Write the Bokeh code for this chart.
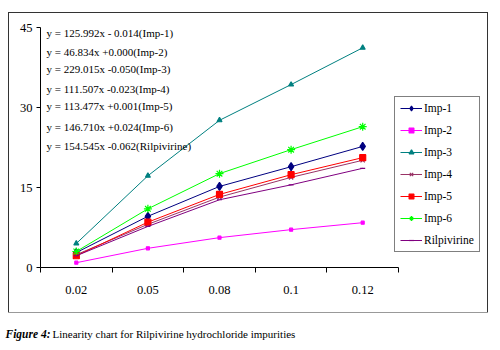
from bokeh.plotting import figure
from bokeh.models import (FixedTicker, Legend, LegendItem, Label, Range1d, Spacer)
from bokeh.layouts import column, row
from bokeh.embed import file_html
from bokeh.resources import INLINE

categories = ["0.02", "0.05", "0.08", "0.1", "0.12"]
series_names = ["Imp-1", "Imp-2", "Imp-3", "Imp-4", "Imp-5", "Imp-6", "Rilpivirine"]
imp1 = [2.8, 9.6, 15.2, 18.9, 22.7]
imp2 = [0.9, 3.6, 5.6, 7.1, 8.4]
imp3 = [4.5, 17.2, 27.6, 34.3, 41.2]
imp4 = [2.4, 8.1, 13.2, 16.9, 20.1]
imp5 = [2.2, 8.5, 13.7, 17.4, 20.6]
imp6 = [3.0, 11.0, 17.6, 22.1, 26.4]
rilp = [2.2, 7.7, 12.7, 15.5, 18.6]
equations = ["y = 125.992x - 0.014(Imp-1)", "y = 46.834x +0.000(Imp-2)",
             "y = 229.015x -0.050(Imp-3)", "y = 111.507x -0.023(Imp-4)",
             "y = 113.477x +0.001(Imp-5)", "y = 146.710x +0.024(Imp-6)",
             "y = 154.545x -0.062(Rilpivirine)"]
y_ticks = [0, 15, 30, 45]
caption_bold = "Figure 4:"
caption_text = "Linearity chart for Rilpivirine hydrochloride impurities"

# outer box in page px
BOX_L, BOX_T, BOX_R, BOX_B = 9, 13, 487, 312
W, H = BOX_R - BOX_L, BOX_B - BOX_T
# axis extents in page px
FL, AXR, FT, FB = 40, 398, 27, 267
X0, XA = -0.5, len(categories) - 0.5
Y0, Y1 = 0, 45

def dx(px):
    return X0 + (px - FL) * (XA - X0) / (AXR - FL)

def dy(py):
    return Y0 + (FB - py) * (Y1 - Y0) / (FB - FT)

SERIF = "Liberation Serif"

p = figure(width=W, height=H, output_backend="svg", toolbar_location=None,
           x_range=Range1d(X0, dx(BOX_R)), y_range=Range1d(Y0, Y1),
           min_border_left=FL - BOX_L, min_border_right=0,
           min_border_top=FT - BOX_T, min_border_bottom=BOX_B - FB)
p.styles = {"outline": "1.5px solid #333333"}
p.xgrid.visible = False
p.ygrid.visible = False
p.outline_line_color = None
p.background_fill_color = "white"
p.border_fill_color = "white"

xs = list(range(len(categories)))
p.xaxis.bounds = (X0, XA)
p.xaxis.ticker = FixedTicker(ticks=xs, minor_ticks=[i - 0.5 for i in range(len(categories) + 1)])
p.xaxis.major_label_overrides = {i: c for i, c in enumerate(categories)}
p.xaxis.major_tick_out = 0
p.xaxis.major_tick_in = 0
p.xaxis.major_tick_line_color = None
p.xaxis.minor_tick_out = 5
p.xaxis.minor_tick_in = 0
p.xaxis.minor_tick_line_color = "black"
p.xaxis.major_label_standoff = 13

p.yaxis.ticker = FixedTicker(ticks=y_ticks, minor_ticks=[])
p.yaxis.major_tick_out = 4
p.yaxis.major_tick_in = 0
p.yaxis.major_tick_line_color = "black"
p.yaxis.major_label_standoff = 4

for ax in (p.xaxis, p.yaxis):
    ax.axis_line_color = "black"
    ax.axis_line_width = 1
    ax.major_label_text_font = SERIF
    ax.major_label_text_font_size = "12.5px"
    ax.major_label_text_color = "black"

styles = [
    ("#000080", "diamond", 8),
    ("#FF00FF", "square", 3),
    ("#008080", "triangle", 5),
    ("#993366", "x", 6),
    ("#FF0000", "square", 6),
    ("#00FF00", "asterisk", 8),
    ("#800080", "dash", 5),
]
data = [imp1, imp2, imp3, imp4, imp5, imp6, rilp]

items = []
for name, vals, (col, mk, sz) in zip(series_names, data, styles):
    r1 = p.line(xs, vals, line_color=col, line_width=1)
    r2 = p.scatter(xs, vals, marker=mk, size=sz, line_color=col, fill_color=col, line_width=1.2)
    items.append(LegendItem(label=name, renderers=[r1, r2]))

legend = Legend(items=items, location=(394 - FL, FB - 252),
                label_text_font=SERIF, label_text_font_size="11.5px",
                label_text_color="black", glyph_width=22, glyph_height=12,
                label_height=12, label_standoff=2, spacing=10, padding=5,
                margin=0, border_line_color="black", border_line_width=1,
                background_fill_color="white", background_fill_alpha=1)
p.add_layout(legend, "center")

eq_y = [32, 51, 68, 88, 105, 126, 145]
for t, py in zip(equations, eq_y):
    p.add_layout(Label(x=dx(46), y=dy(py), text=t, text_font=SERIF,
                       text_font_size="11px", text_color="black",
                       text_baseline="middle", text_align="left"))

# caption as a second svg figure whose frame fills it (data units = page px)
CAP_H = 350 - BOX_B
cap = figure(width=500, height=CAP_H, output_backend="svg", toolbar_location=None,
             x_range=Range1d(0, 500), y_range=Range1d(CAP_H, 0),
             x_axis_type=None, y_axis_type=None,
             min_border_left=0, min_border_right=0,
             min_border_top=0, min_border_bottom=0)
cap.outline_line_color = None
cap.xgrid.visible = False
cap.ygrid.visible = False
cap.add_layout(Label(x=5, y=333 - BOX_B, text=caption_bold, text_font=SERIF,
                     text_font_style="bold italic", text_font_size="11.5px",
                     text_baseline="middle", text_color="black"))
cap.add_layout(Label(x=52, y=333 - BOX_B, text=caption_text,
                     text_font=SERIF, text_font_size="11px",
                     text_baseline="middle", text_color="black"))

layout = column(Spacer(width=500, height=BOX_T),
                row(Spacer(width=BOX_L, height=H), p, spacing=0),
                cap, spacing=0)
open("out.html", "w").write(file_html(layout, INLINE))
